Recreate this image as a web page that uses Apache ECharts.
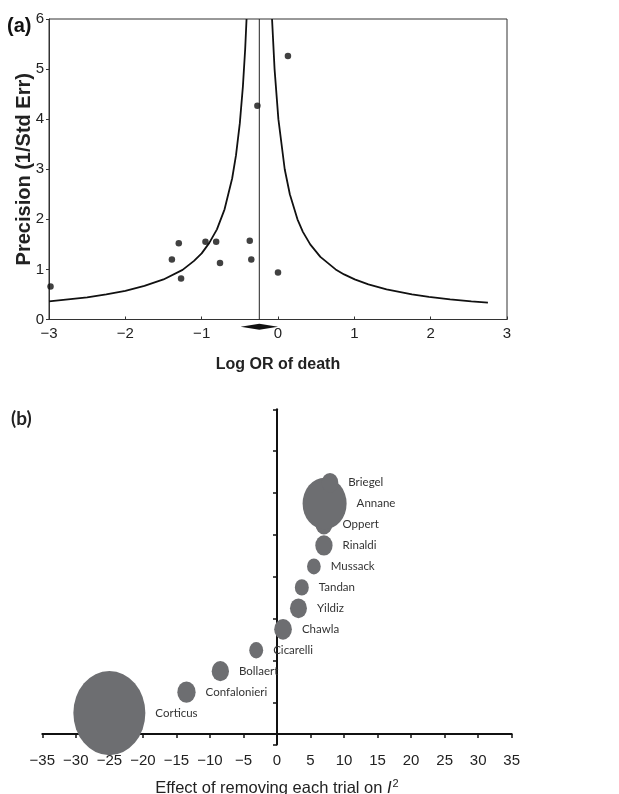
<!DOCTYPE html>
<html>
<head>
<meta charset="utf-8">
<script src="https://cdn.jsdelivr.net/npm/echarts@6/dist/echarts.min.js"></script>
<style>html,body{margin:0;padding:0;background:#fff}#c{width:619px;height:794px}</style>
</head>
<body>
<div id="c"></div>
<script>
// ---------- Panel (a): funnel plot ----------
const studyLogOR = [-2.98, -1.39, -1.30, -1.27, -0.95, -0.81, -0.76, -0.37, -0.35, 0.00, -0.27, 0.13];
const studyPrecision = [0.66, 1.20, 1.52, 0.82, 1.55, 1.55, 1.13, 1.57, 1.20, 0.94, 4.27, 5.26];
const pooledLogOR = -0.245;
const pooledCILow = -0.49;
const pooledCIHigh = 0.0;
// funnel limits
const funnelLeftX = [-3.0, -2.75, -2.5, -2.25, -2.0, -1.75, -1.5, -1.25, -1.1, -1.0, -0.9, -0.8, -0.7, -0.6, -0.55, -0.5, -0.46, -0.43, -0.412];
const funnelLeftY = [0.36, 0.40, 0.44, 0.50, 0.57, 0.67, 0.80, 0.99, 1.17, 1.32, 1.53, 1.80, 2.20, 2.82, 3.28, 3.92, 4.65, 5.40, 6.0];
const funnelRightX = [-0.078, -0.045, 0.005, 0.088, 0.155, 0.255, 0.326, 0.422, 0.555, 0.755, 0.866, 1.005, 1.184, 1.422, 1.755, 1.977, 2.255, 2.533, 2.75];
const funnelRightY = [6.0, 5.0, 4.0, 3.0, 2.5, 2.0, 1.75, 1.5, 1.25, 1.0, 0.9, 0.8, 0.7, 0.6, 0.5, 0.45, 0.4, 0.36, 0.335];
const xTicksA = [-3, 3, 1];
const yTicksA = [0, 6, 1];

// ---------- Panel (b): influence bubble plot ----------
const trials = ['Corticus', 'Confalonieri', 'Bollaert', 'Cicarelli', 'Chawla', 'Yildiz', 'Tandan', 'Mussack', 'Rinaldi', 'Oppert', 'Annane', 'Briegel'];
const effectOnI2 = [-25.0, -13.5, -8.45, -3.1, 0.9, 3.2, 3.7, 5.5, 7.0, 7.0, 7.1, 7.9];
const trialWeight = [144, 9.3, 8.3, 5.4, 8.7, 8.0, 5.4, 5.2, 8.3, 8.0, 53.8, 7.7];
const xTicksB = [-35, 35, 5];

const minus = v => (v < 0 ? '\u2212' + Math.abs(v) : String(v));
const AR = 'Liberation Sans, Arial, sans-serif';

const scatterA = studyLogOR.map((x, i) => [x, studyPrecision[i]]);
const leftCurve = funnelLeftX.map((x, i) => [x, funnelLeftY[i]]);
const rightCurve = funnelRightX.map((x, i) => [x, funnelRightY[i]]);
const bubbles = trials.map((n, i) => ({ name: n, value: [effectOnI2[i], i + 1, trialWeight[i]] }));

const chart = echarts.init(document.getElementById('c'), null, { renderer: 'canvas' });
chart.setOption({
  animation: false,
  backgroundColor: '#fff',
  title: [
    { text: '(a)', left: 7, top: 16, padding: 0, textStyle: { fontFamily: AR, fontWeight: 'bold', fontSize: 20, color: '#111' } },
    { text: '(b)', left: 11, top: 409, padding: 0, textStyle: { fontFamily: 'Lato, sans-serif', fontWeight: 'bold', fontSize: 19, color: '#222' } }
  ],
  grid: [
    { left: 49, right: 112, top: 19, bottom: 474.5, show: true, borderColor: '#333', borderWidth: 1, outerBoundsMode: 'none', containLabel: false },
    { left: 42.3, right: 107.3, top: 409.3, bottom: 49.5, outerBoundsMode: 'none', containLabel: false }
  ],
  xAxis: [
    {
      gridIndex: 0, type: 'value', min: xTicksA[0], max: xTicksA[1], interval: xTicksA[2],
      axisLine: { onZero: false, lineStyle: { color: '#333', width: 1 } },
      axisTick: { inside: true, length: 3, lineStyle: { color: '#333' } },
      splitLine: { show: false },
      axisLabel: { formatter: minus, fontFamily: AR, fontSize: 15, color: '#222', margin: 7 },
      name: 'Log OR of death', nameLocation: 'middle', nameGap: 37,
      nameTextStyle: { fontFamily: AR, fontWeight: 'bold', fontSize: 16, color: '#222' }
    },
    {
      gridIndex: 1, type: 'value', min: xTicksB[0], max: xTicksB[1], interval: xTicksB[2],
      axisLine: { onZero: true, onZeroAxisIndex: 1, lineStyle: { color: '#111', width: 2 } },
      axisTick: { inside: false, length: 4, lineStyle: { color: '#111', width: 1.5 } },
      splitLine: { show: false },
      axisLabel: { formatter: minus, fontFamily: AR, fontSize: 15, color: '#222', margin: 9 },
      name: '{n|Effect of removing each trial on }{i|I}{s|2}', nameLocation: 'middle', nameGap: 34, nameMoveOverlap: false,
      nameTextStyle: {
        fontFamily: AR, fontSize: 16.5, color: '#222',
        rich: {
          n: { fontFamily: AR, fontSize: 16.5, color: '#222' },
          i: { fontFamily: AR, fontSize: 16.5, fontStyle: 'italic', color: '#222' },
          s: { fontFamily: AR, fontSize: 11, color: '#222', verticalAlign: 'top', padding: [0, 0, 8, 1] }
        }
      }
    }
  ],
  yAxis: [
    {
      gridIndex: 0, type: 'value', min: yTicksA[0], max: yTicksA[1], interval: yTicksA[2],
      axisLine: { show: true, onZero: false, lineStyle: { color: '#333', width: 1 } },
      axisTick: { show: true, inside: false, length: 3, lineStyle: { color: '#333' } },
      splitLine: { show: false },
      axisLabel: { fontFamily: AR, fontSize: 15, color: '#222', margin: 5 },
      name: 'Precision (1/Std Err)', nameLocation: 'middle', nameGap: 15, nameMoveOverlap: false,
      nameTextStyle: { fontFamily: AR, fontWeight: 'bold', fontSize: 20, color: '#222' }
    },
    {
      gridIndex: 1, type: 'value', min: -0.5, max: 15.5, position: 'left',
      axisLine: { show: false, onZero: true, onZeroAxisIndex: 1 },
      axisTick: { show: false }, axisLabel: { show: false }, splitLine: { show: false }
    },
    {
      gridIndex: 1, type: 'value', min: 0, max: 16, interval: 2, position: 'left',
      axisLine: { show: true, onZero: true, onZeroAxisIndex: 1, lineStyle: { color: '#111', width: 2 } },
      axisTick: { show: true, inside: false, length: 4, lineStyle: { color: '#111', width: 1.5 } },
      axisLabel: { show: false }, splitLine: { show: false }
    }
  ],
  series: [
    {
      type: 'line', xAxisIndex: 0, yAxisIndex: 0, data: leftCurve, showSymbol: false, symbol: 'none',
      lineStyle: { color: '#111', width: 1.8 }, silent: true
    },
    {
      type: 'line', xAxisIndex: 0, yAxisIndex: 0, data: rightCurve, showSymbol: false, symbol: 'none',
      lineStyle: { color: '#111', width: 1.8 }, silent: true
    },
    {
      type: 'line', xAxisIndex: 0, yAxisIndex: 0, data: [[pooledLogOR, yTicksA[0]], [pooledLogOR, yTicksA[1]]],
      showSymbol: false, symbol: 'none', lineStyle: { color: '#222', width: 1 }, silent: true
    },
    {
      type: 'scatter', xAxisIndex: 0, yAxisIndex: 0, data: scatterA, symbolSize: 6.5,
      itemStyle: { color: '#111' }
    },
    {
      type: 'custom', xAxisIndex: 0, yAxisIndex: 0, clip: false,
      data: [[pooledCILow, pooledLogOR, pooledCIHigh]],
      renderItem: function (params, api) {
        const yMid = -0.145, h = 0.06;
        const l = api.coord([api.value(0), yMid]);
        const t = api.coord([api.value(1), yMid + h]);
        const r = api.coord([api.value(2), yMid]);
        const b = api.coord([api.value(1), yMid - h]);
        return { type: 'polygon', shape: { points: [l, t, r, b] }, style: { fill: '#111' } };
      }
    },
    {
      type: 'scatter', xAxisIndex: 1, yAxisIndex: 1, data: bubbles,
      symbol: 'circle',
      symbolSize: function (v) { const d = Math.sqrt(v[2]) * 6; return [d, d * 1.17]; },
      itemStyle: { color: '#6d6e71', opacity: 1 },
      label: {
        show: true, position: 'right', distance: 10, formatter: '{b}',
        fontFamily: 'Lato, sans-serif', fontSize: 11.5, color: '#333'
      }
    }
  ]
});
</script>
</body>
</html>
